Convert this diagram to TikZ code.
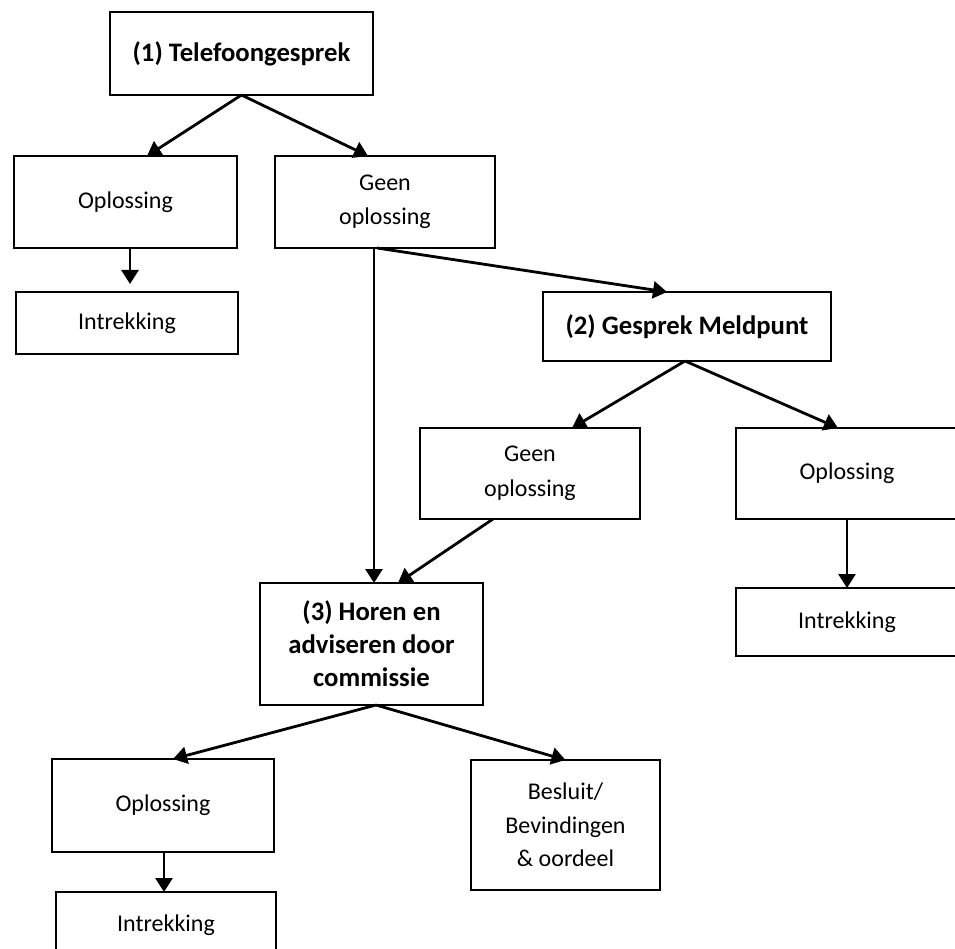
\documentclass[tikz,border=0pt]{standalone}
\usepackage{fontspec}
\setmainfont{Carlito}
\usetikzlibrary{arrows.meta}
\begin{document}
\begin{tikzpicture}[x=1pt,y=-1pt,
  box/.style={draw,line width=2.9pt,inner sep=0pt,outer sep=0pt,align=center,
    font=\fontsize{24}{34.5}\selectfont},
  boldbox/.style={box,font=\fontsize{26.7}{33}\selectfont\bfseries},
  arr/.style={line width=2.8pt,-{Triangle[length=14pt,width=17pt]}}]
\useasboundingbox (0,0) rectangle (955,949);
\clip (0,0) rectangle (955,949);
\node[boldbox,minimum width=263pt,minimum height=83pt] (top) at (241.5,53.5) {(1) Telefoongesprek};
\node[box,minimum width=223pt,minimum height=92pt] (opl1) at (125.5,202) {Oplossing};
\node[box,minimum width=220pt,minimum height=92pt] (geen1) at (385,202) {Geen\\oplossing};
\node[box,minimum width=222pt,minimum height=62pt] (intr1) at (127,323) {Intrekking};
\node[boldbox,minimum width=288pt,minimum height=69pt] (gm) at (687,326.5) {(2) Gesprek Meldpunt};
\node[box,minimum width=220pt,minimum height=91pt] (geen2) at (530,473.5) {Geen\\oplossing};
\node[box,minimum width=222pt,minimum height=91pt] (oplR) at (847,473.5) {Oplossing};
\node[box,minimum width=222pt,minimum height=68pt] (intrR) at (847,622) {Intrekking};
\node[boldbox,minimum width=223pt,minimum height=122pt] (horen) at (371.5,644) {(3) Horen en\\adviseren door\\commissie};
\node[box,minimum width=222pt,minimum height=93pt] (oplBL) at (163,805.5) {Oplossing};
\node[box,minimum width=189pt,minimum height=130pt,font=\fontsize{24}{33.5}\selectfont] (bes) at (565.5,825) {Besluit/\\Bevindingen\\\& oordeel};
\node[box,minimum width=220pt,minimum height=66pt] (intrBL) at (166,925) {Intrekking};

\draw[arr] (top.south) -- ([xshift=21.5pt]opl1.north);
\draw[arr] (top.south) -- ([xshift=-17pt]geen1.north);
\draw[arr] ([xshift=4.5pt]opl1.south) -- ([xshift=3pt,yshift=8pt]intr1.north);
\draw[arr] ([xshift=-11pt]geen1.south) -- ([xshift=2.5pt]horen.north);
\draw[arr] ([xshift=-8pt]geen1.south) -- ([xshift=-20pt]gm.north);
\draw[arr] ([xshift=-2pt]gm.south) -- ([xshift=42pt]geen2.north);
\draw[arr] ([xshift=-2pt]gm.south) -- ([xshift=-9pt]oplR.north);
\draw[arr] (oplR.south) -- (intrR.north);
\draw[arr] ([xshift=-37pt]geen2.south) -- ([xshift=26.5pt]horen.north);
\draw[arr] ([xshift=4.5pt]horen.south) -- ([xshift=10pt]oplBL.north);
\draw[arr] ([xshift=4.5pt]horen.south) -- (bes.north);
\draw[arr] ([xshift=1pt]oplBL.south) -- ([xshift=-2pt]intrBL.north);
\end{tikzpicture}
\end{document}
